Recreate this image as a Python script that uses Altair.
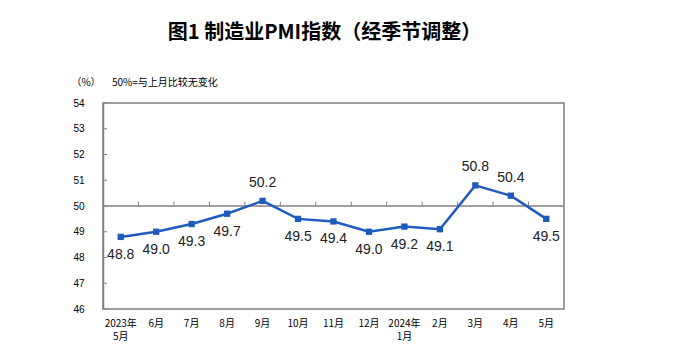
import altair as alt
import pandas as pd

title_text = "图1  制造业PMI指数（经季节调整）"
unit_text = ["（%）"]
note_text = ["50%=与上月比较无变化"]
months = ["2023年\n5月", "6月", "7月", "8月", "9月", "10月", "11月", "12月",
          "2024年\n1月", "2月", "3月", "4月", "5月"]
pmi = [48.8, 49.0, 49.3, 49.7, 50.2, 49.5, 49.4, 49.0, 49.2, 49.1, 50.8, 50.4, 49.5]
y_ticks = [46, 47, 48, 49, 50, 51, 52, 53, 54]
baseline = 50

blue = "#1f5bbd"
gray = "#808080"

df = pd.DataFrame({"month": months, "pmi": pmi, "label": [f"{v:.1f}" for v in pmi]})
tick_df = pd.DataFrame({"month": months[1:], "pmi": [baseline] * 12, "y1": [baseline + 0.17] * 12})
yt_df = pd.DataFrame({"pmi": y_ticks})
b_df = pd.DataFrame({"pmi": [baseline]})

xscale = alt.Scale(type="band", domain=months, paddingInner=0, paddingOuter=0)
yscale = alt.Scale(domain=[y_ticks[0], y_ticks[-1]], nice=False, zero=False)

x_axis = alt.Axis(title=None, labelExpr="split(datum.label, '\\n')", labelAngle=0,
                  ticks=False, domain=False, labelFont="Noto Sans CJK SC", labelFontSize=10,
                  labelPadding=9, labelLineHeight=13, labelColor="#000")
y_axis = alt.Axis(title=None, values=y_ticks, ticks=False, grid=False, domainColor=gray,
                  domainWidth=1.5, labelPadding=19, labelFontSize=10,
                  labelFont="Liberation Sans", labelColor="#000")


def X(bp=0.5):
    return alt.X("month:N", scale=xscale, sort=None, axis=x_axis, bandPosition=bp)


def Y():
    return alt.Y("pmi:Q", scale=yscale, axis=y_axis)


base = alt.Chart(df)

line = base.mark_line(color=blue, strokeWidth=2.5,
                      point=alt.OverlayMarkDef(shape="square", size=40, filled=True, color=blue)).encode(
    x=X(), y=Y())

rule50 = alt.Chart(b_df).mark_rule(color=gray, strokeWidth=1.5).encode(y=Y())

ticks50 = alt.Chart(tick_df).mark_rule(color=gray, strokeWidth=1).encode(
    x=X(0), y=Y(), y2="y1:Q")

yticks = alt.Chart(yt_df).mark_rule(color=gray, strokeWidth=1).encode(
    x=alt.value(0), x2=alt.value(4), y=Y())

labels_up = base.transform_filter(f"datum.pmi > {baseline}").mark_text(
    dy=-18, fontSize=14, font="Liberation Sans", color="#222").encode(x=X(), y=Y(), text="label:N")
labels_down = base.transform_filter(f"datum.pmi <= {baseline}").mark_text(
    dy=18, fontSize=14, font="Liberation Sans", color="#222").encode(x=X(), y=Y(), text="label:N")

unit = alt.Chart(pd.DataFrame({"t": unit_text})).mark_text(
    fontSize=10, font="Noto Sans CJK SC", color="#000", align="center").encode(
    text="t:N", x=alt.value(-17), y=alt.value(-20))
note = alt.Chart(pd.DataFrame({"t": note_text})).mark_text(
    fontSize=10, font="Noto Sans CJK SC", color="#000", align="left").encode(
    text="t:N", x=alt.value(9), y=alt.value(-20))

chart = alt.layer(rule50, ticks50, yticks, line, labels_up, labels_down, unit, note).properties(
    width=461, height=206,
    title=alt.Title(title_text, fontSize=20, font="Noto Sans CJK SC", fontWeight="bold",
                    anchor="middle", offset=35, dx=-9, color="#000"),
    autosize=alt.AutoSizeParams(type="none"),
    padding={"left": 95, "top": 95, "right": 20, "bottom": 40},
).configure_view(stroke=gray, strokeWidth=1.5)

chart.save("out.html", embed_options={"renderer": "svg", "actions": False})
